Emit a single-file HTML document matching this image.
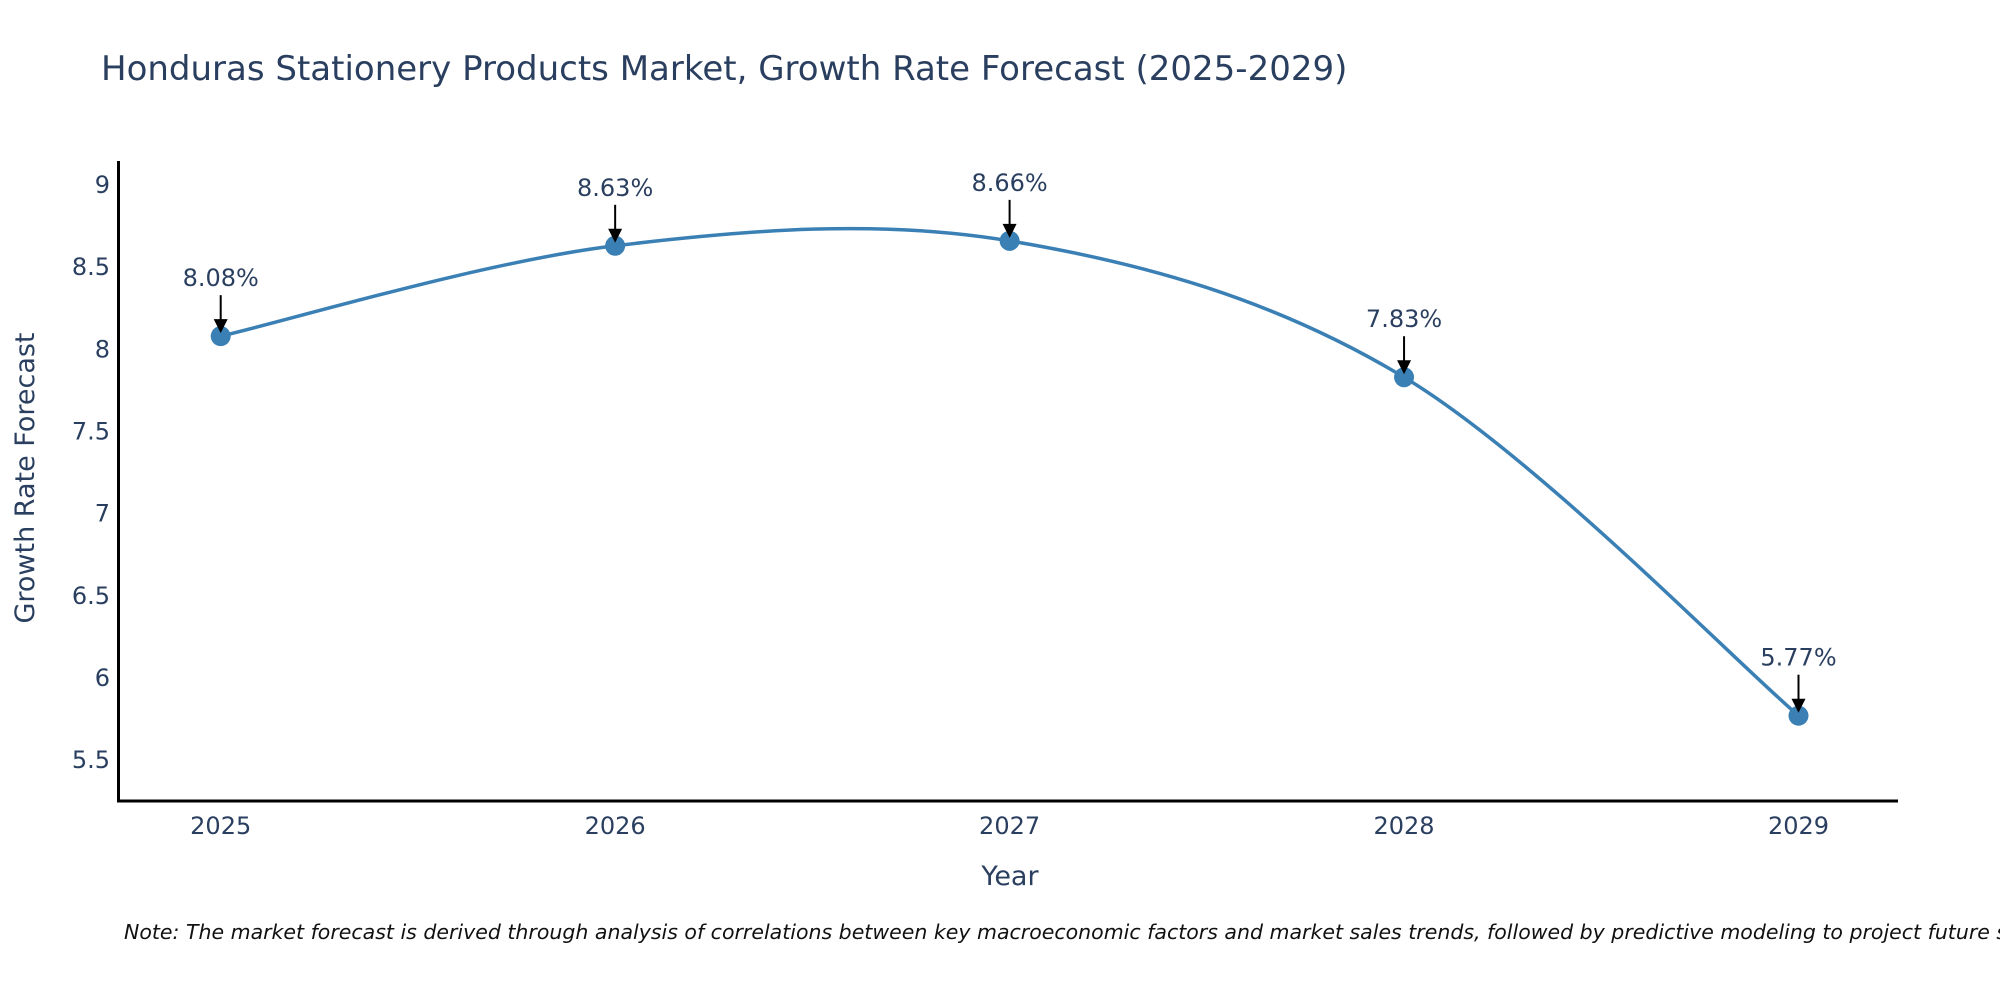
<!DOCTYPE html>
<html><head><meta charset="utf-8"><style>
body{margin:0;background:#fff;}
svg{display:block;font-family:"DejaVu Sans","Liberation Sans",sans-serif;}
</style></head><body>
<svg id="chart" width="2000" height="1000">
<text x="101" y="80" font-size="34" fill="#2a3f5f">Honduras Stationery Products Market, Growth Rate Forecast (2025-2029)</text>
<g id="yticks"></g>
<g id="xticks"></g>
<line x1="118.5" y1="161" x2="118.5" y2="802" stroke="#000" stroke-width="3"/>
<line x1="117" y1="801" x2="1898" y2="801" stroke="#000" stroke-width="3"/>
<path id="curve" fill="none" stroke="#3b80b5" stroke-width="3.5"/>
<g id="points"></g>
<g id="annos"></g>
<text x="1010" y="885" font-size="27" fill="#2a3f5f" text-anchor="middle">Year</text>
<text transform="translate(34,478) rotate(-90)" font-size="27" fill="#2a3f5f" text-anchor="middle">Growth Rate Forecast</text>
<text x="124" y="939" font-size="20.5" font-style="italic" fill="#111">Note: The market forecast is derived through analysis of correlations between key macroeconomic factors and market sales trends, followed by predictive modeling to project future sales.</text>
</svg>
<script>
const years = [2025, 2026, 2027, 2028, 2029];
const values = [8.08, 8.63, 8.66, 7.83, 5.77];
const labels = ["8.08%", "8.63%", "8.66%", "7.83%", "5.77%"];
const yTicks = [5.5, 6, 6.5, 7, 7.5, 8, 8.5, 9];

const NS = "http://www.w3.org/2000/svg";
function xS(v){ return 220.7 + (v - 2025) * 394.45; }
function yS(v){ return 185 + (9 - v) * 164.3; }
function mk(tag, attrs, parent){ const e = document.createElementNS(NS, tag); for (const k in attrs) e.setAttribute(k, attrs[k]); parent.appendChild(e); return e; }

const yt = document.getElementById('yticks');
yTicks.forEach(t => {
  const e = mk('text', {x: 110, y: yS(t) + 8, 'font-size': 24, fill: '#2a3f5f', 'text-anchor': 'end'}, yt);
  
  
  e.textContent = String(t);
});
const xt = document.getElementById('xticks');
years.forEach(y => {
  const e = mk('text', {x: xS(y), y: 834, 'font-size': 24, fill: '#2a3f5f', 'text-anchor': 'middle'}, xt);
  
  
  e.textContent = String(y);
});

const pts = years.map((y, i) => [xS(y), yS(values[i])]);
let d = 'M' + pts[0][0] + ',' + pts[0][1];
for (let i = 0; i < pts.length - 1; i++) {
  const p0 = pts[Math.max(0, i - 1)], p1 = pts[i], p2 = pts[i + 1], p3 = pts[Math.min(pts.length - 1, i + 2)];
  const c1 = [p1[0] + (p2[0] - p0[0]) / 6, p1[1] + (p2[1] - p0[1]) / 6];
  const c2 = [p2[0] - (p3[0] - p1[0]) / 6, p2[1] - (p3[1] - p1[1]) / 6];
  d += ' C' + c1.join(',') + ' ' + c2.join(',') + ' ' + p2.join(',');
}
document.getElementById('curve').setAttribute('d', d);

const pg = document.getElementById('points');
const ag = document.getElementById('annos');
pts.forEach((p, i) => {
  const c = mk('circle', {cx: p[0], cy: p[1], r: 10, fill: '#3b80b5'}, pg);
  
  
  const l = mk('line', {x1: p[0], y1: p[1] - 41, x2: p[0], y2: p[1] - 14, stroke: '#000', 'stroke-width': 2}, ag);
  
  
  const h = mk('polygon', {points: (p[0]-7)+','+(p[1]-17)+' '+(p[0]+7)+','+(p[1]-17)+' '+p[0]+','+(p[1]-3), fill: '#000'}, ag);
  
  
  const t = mk('text', {x: p[0], y: p[1] - 50, 'font-size': 24, fill: '#2a3f5f', 'text-anchor': 'middle'}, ag);
  
  
  t.textContent = labels[i];
});
</script>
</body></html>
